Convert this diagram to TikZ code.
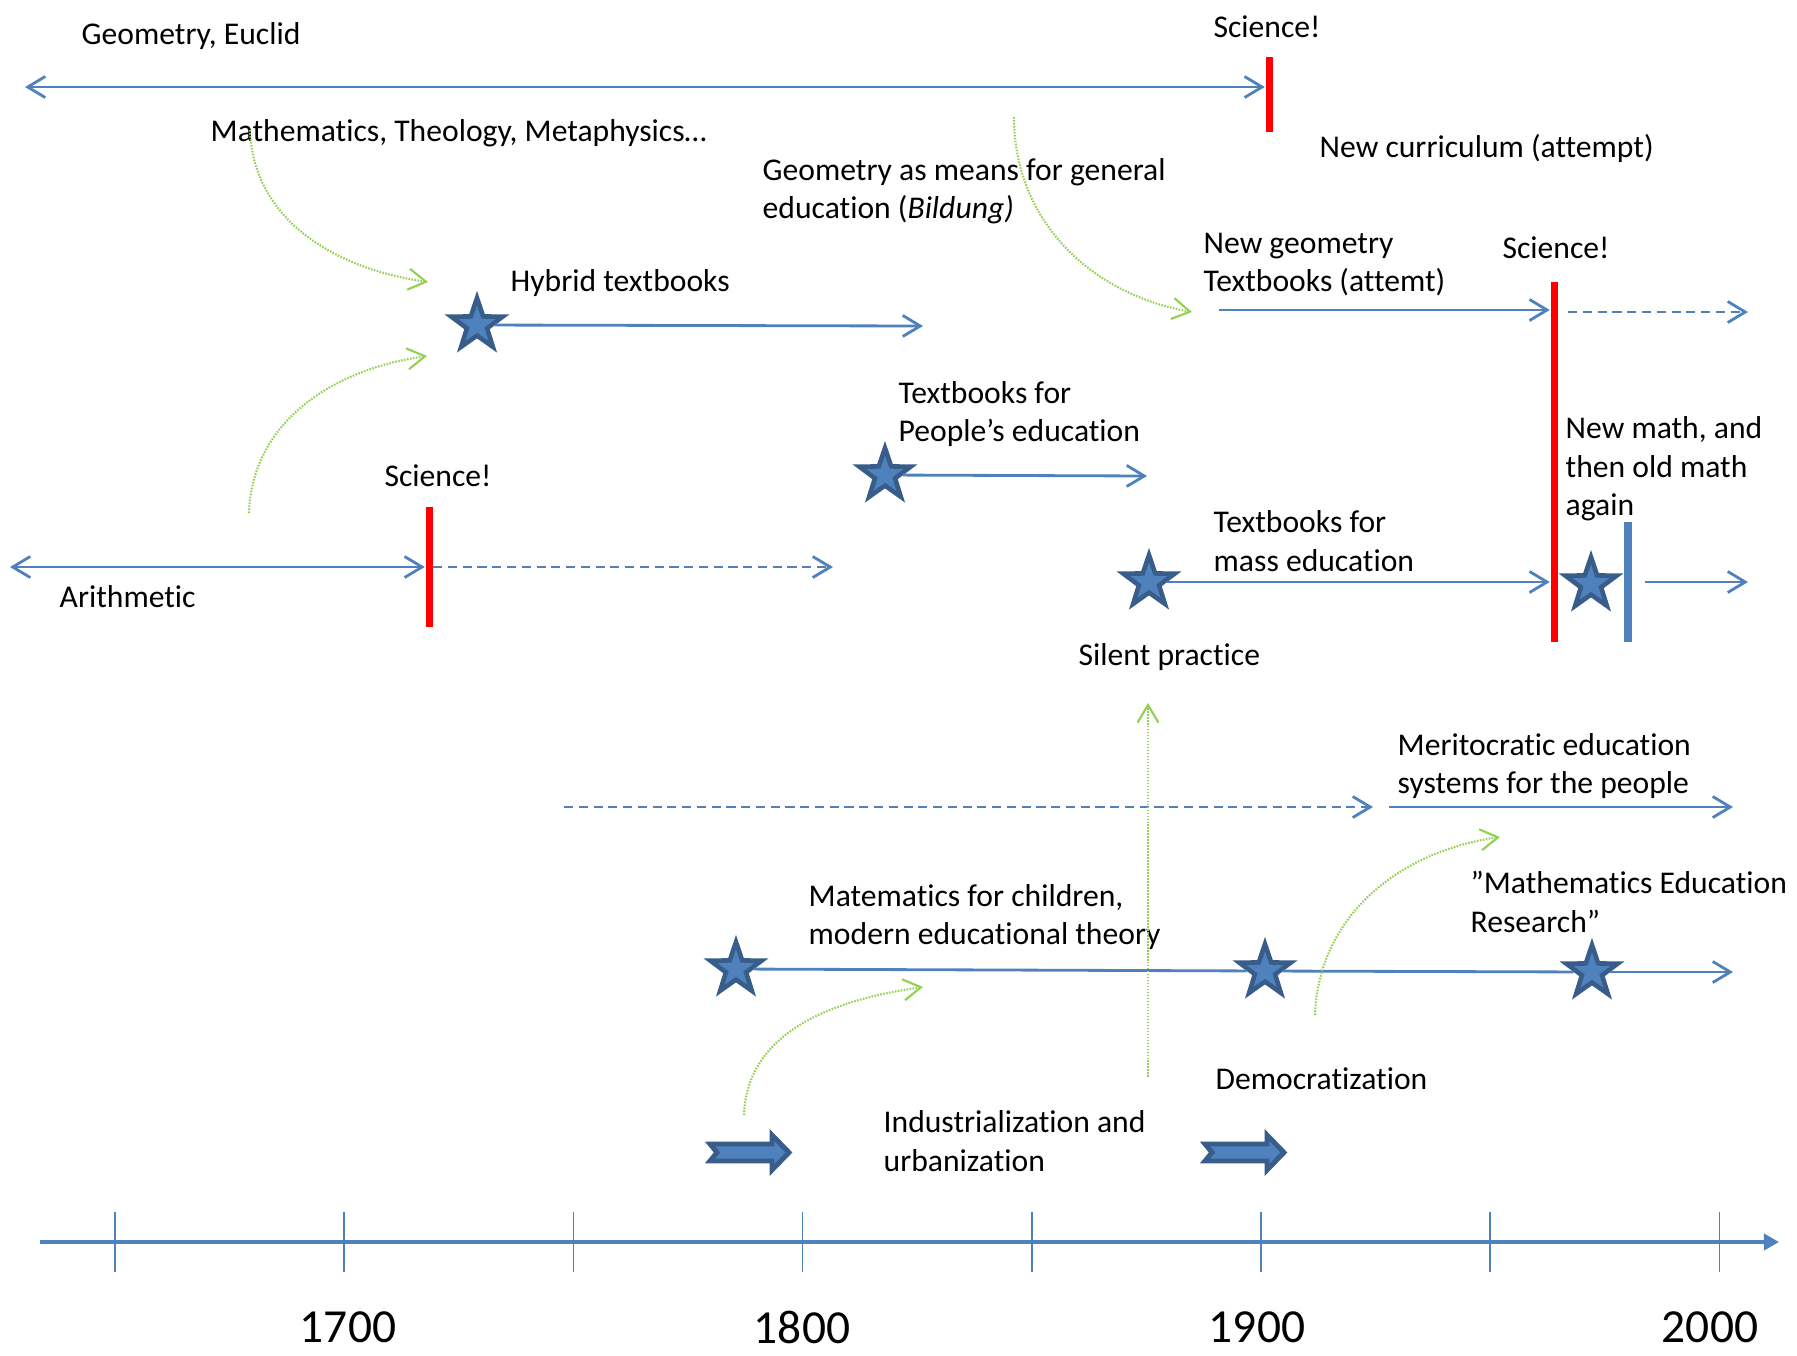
\documentclass[tikz,border=0pt]{standalone}
\usepackage{fontspec}
\setmainfont{Carlito}[Ligatures={NoCommon, NoContextual}]
\usepackage{tikz}
\usetikzlibrary{arrows.meta, positioning, calc, shapes.geometric}

\definecolor{lineblue}{RGB}{79,129,189}
\definecolor{starblue}{RGB}{56,93,138}
\definecolor{trendgreen}{RGB}{146,208,80}

\begin{document}
\begin{tikzpicture}[
		every node/.style={font=\fontsize{9}{10.9}\selectfont, align=left, inner sep=0pt},
		txt/.style={anchor=west},
		line/.style={lineblue, line width=0.8pt},
		arrow/.style={line, -{Straight Barb[length=5pt, width=6pt]}},
		twoway/.style={line, {Straight Barb[length=5pt, width=6pt]}-{Straight Barb[length=5pt, width=6pt]}},
		later/.style={arrow, dash pattern=on 2.6pt off 1.6pt},
		influence/.style={-{Straight Barb[length=5pt, width=6pt]}, trendgreen, line width=0.6pt, dash pattern=on 0.45pt off 0.4pt},
		milestone/.style={star, star points=5, star point ratio=2.55, draw=starblue, fill=lineblue, line width=1.3pt, minimum size=0.54cm},
		redbar/.style={fill=red, minimum width=0.07cm},
		bluebar/.style={fill=lineblue, minimum width=0.08cm},
		trend/.style={draw=starblue, fill=lineblue, line width=1.4pt},
		axis/.style={lineblue, line width=1pt, -{Triangle[length=4.3pt, width=4.6pt]}},
		tick/.style={lineblue, line width=0.5pt},
		yearlbl/.style={font=\fontsize{13.5}{16}\selectfont}
		]
		\useasboundingbox (0,0) rectangle (17.97,-13.56);
		
		% Labels
		\node[txt] (geo) at (0.81,-0.36) {Geometry, Euclid};
		\node (sci1) at (12.67,-0.27) {Science!};
		\node[txt] (mtm) at (2.10,-1.33) {Mathematics, Theology, Metaphysics…};
		\node[txt] (bild) at (7.62,-1.915) {Geometry as means for general\\education (\textit{Bildung)}};
		\node[txt] (curr) at (13.19,-1.48) {New curriculum (attempt)};
		\node[txt] (hybrid) at (5.10,-2.83) {Hybrid textbooks};
		\node[txt] (newgeo) at (12.03,-2.645) {New geometry\\Textbooks (attemt)};
		\node (sci3) at (15.56,-2.48) {Science!};
		\node[txt] (people) at (8.98,-4.14) {Textbooks for\\People’s education};
		\node (sci2) at (4.38,-4.76) {Science!};
		\node[txt] (mass) at (12.13,-5.41) {Textbooks for\\mass education};
		\node[txt] (newmath) at (15.65,-4.69) {New math, and\\then old math\\again};
		\node[txt] (arith) at (0.59,-5.97) {Arithmetic};
		\node[txt] (silent) at (10.78,-6.57) {Silent practice};
		\node[txt] (merit) at (13.97,-7.66) {Meritocratic education\\systems for the people};
		\node[txt] (mer) at (14.70,-9.02) {”Mathematics Education\\Research”};
		\node[txt] (children) at (8.08,-9.17) {Matematics for children,\\modern educational theory};
		\node[txt] (democ) at (12.15,-10.79) {Democratization};
		\node[txt] (indust) at (8.83,-11.41) {Industrialization and\\urbanization};
		
		% Bars
		\node[redbar, minimum height=0.75cm] (bar1) at (12.69,-0.945) {};
		\node[redbar, minimum height=1.20cm] (bar2) at (4.29,-5.67) {};
		\node[redbar, minimum height=3.60cm] (bar3) at (15.54,-4.62) {};
		\node[bluebar, minimum height=1.20cm] (bar4) at (16.28,-5.82) {};
		
		% Stars
		\node[milestone] (hstar) at (4.77,-3.25) {};
		\node[milestone] (pstar) at (8.85,-4.75) {};
		\node[milestone] (mstar) at (11.49,-5.82) {};
		\node[milestone] (nstar) at (15.91,-5.84) {};
		\node[milestone] (cstar) at (7.36,-9.69) {};
		\node[milestone] (dstar) at (12.65,-9.71) {};
		\node[milestone] (rstar) at (15.92,-9.72) {};
		
		% Free ends
		\coordinate (topL) at (0.25,-0.87);
		\coordinate (hend) at (9.23,-3.26);
		\coordinate (pend) at (11.47,-4.76);
		\coordinate (arL) at (0.10,-5.67);
		\coordinate (arR) at (8.33,-5.67);
		\coordinate (ngL) at (12.19,-3.10);
		\coordinate (ngR) at (17.48,-3.12);
		\coordinate (nmR) at (17.48,-5.82);
		\coordinate (peopleL) at (5.64,-8.07);
		\coordinate (peopleR) at (13.73,-8.07);
		\coordinate (meritL) at (13.89,-8.07);
		\coordinate (meritR) at (17.33,-8.07);
		\coordinate (cend) at (17.33,-9.72);
		
		% Threads
		\draw[twoway] (topL) -- (topL -| bar1.west);
		\draw[arrow] (hstar) -- (hend);
		\draw[arrow] (pstar) -- (pend);
		\draw[twoway] (arL) -- (arL -| bar2.west);
		\draw[later] (arL -| bar2.east) -- (arR);
		\draw[arrow] (ngL) -- (ngL -| bar3.west);
		\draw[later, shorten <=0.1cm] (ngR -| bar3.east) -- (ngR);
		\draw[arrow] (mstar) -- (mstar -| bar3.west);
		\draw[arrow, shorten <=0.12cm] (bar4.east |- nmR) -- (nmR);
		\draw[later] (peopleL) -- (peopleR);
		\draw[arrow] (meritL) -- (meritR);
		\draw[line] (cstar) -- (dstar);
		\draw[line] (dstar) -- (rstar);
		\draw[arrow] (rstar) -- (cend);
		
		% Influences
		\coordinate (g1a) at (2.50,-1.30); \coordinate (g1b) at (4.28,-2.82);
		\coordinate (g2a) at (2.49,-5.13); \coordinate (g2b) at (4.27,-3.56);
		\coordinate (g3a) at (10.14,-1.17); \coordinate (g3b) at (11.92,-3.12);
		\coordinate (g4a) at (11.48,-10.77); \coordinate (g4b) at (11.48,-7.03);
		\coordinate (g5a) at (7.44,-11.15); \coordinate (g5b) at (9.23,-9.87);
		\coordinate (g6a) at (13.15,-10.15); \coordinate (g6b) at (15.00,-8.37);
		\draw[influence] (g1a) to[out=-88, in=172] (g1b);
		\draw[influence] (g2a) to[out=88, in=188] (g2b);
		\draw[influence] (g3a) to[out=-90, in=170] (g3b);
		\draw[influence] (g4a) -- (g4b);
		\draw[influence] (g5a) to[out=88, in=188] (g5b);
		\draw[influence] (g6a) to[out=88, in=188] (g6b);
		
		% Driving forces
		\foreach \dx in {0, 4.95}
		\draw[trend, xshift=\dx cm] (7.10,-11.44) -- (7.17,-11.525) -- (7.10,-11.61) -- (7.72,-11.61) -- (7.72,-11.70) -- (7.89,-11.525) -- (7.72,-11.35) -- (7.72,-11.44) -- cycle;
		
		% Time axis
		\coordinate (axL) at (0.40,-12.42);
		\coordinate (axR) at (17.79,-12.42);
		\draw[axis] (axL) -- (axR);
		\foreach \i in {0,...,7}
		\draw[tick] ({1.15+2.292*\i},-12.12) -- ++(0,-0.60);
		\foreach \yr/\x in {1700/3.48, 1800/8.02, 1900/12.57, 2000/17.10}
		\node[yearlbl] (y\yr) at (\x,-13.27) {\yr};
		
	\end{tikzpicture}
\end{document}
